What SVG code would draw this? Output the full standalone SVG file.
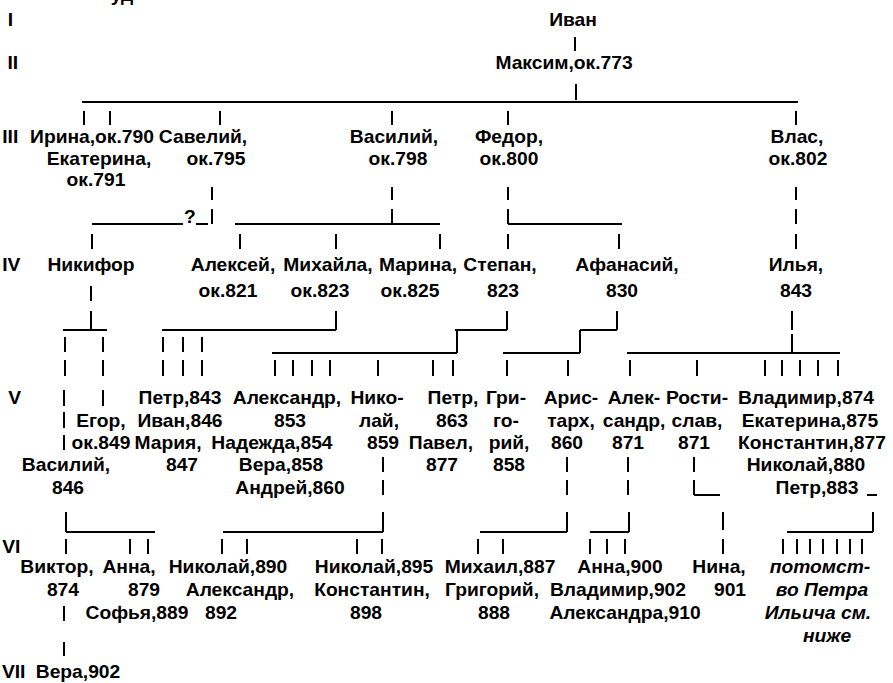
<svg xmlns="http://www.w3.org/2000/svg" width="893" height="683" viewBox="0 0 893 683">
<style>
text{font-family:"Liberation Sans",Arial,sans-serif;font-weight:bold;font-size:17.5px;fill:#000;text-anchor:middle;transform-box:fill-box;transform-origin:center;transform:scaleX(1.1)}
.g text{text-anchor:start}
.it{font-style:italic}
.c line{stroke:#000;stroke-width:2}
</style>
<rect width="893" height="683" fill="#fff"/>
<text x="122" y="1">уд</text>
<g id="generations" class="g">
<text x="8" y="26">I</text><text x="8" y="69">II</text><text x="3" y="143">III</text><text x="3" y="271">IV</text><text x="9" y="404">V</text><text x="3" y="553">VI</text><text x="3" y="678">VII</text>
</g>
<g id="connectors" class="c">
<line x1="575" y1="37" x2="575" y2="51"/><line x1="576" y1="84" x2="576" y2="100"/>
<line x1="82" y1="102" x2="798" y2="102"/>
<line x1="84" y1="111" x2="84" y2="125"/><line x1="110" y1="111" x2="110" y2="125"/><line x1="220" y1="111" x2="220" y2="125"/><line x1="392" y1="111" x2="392" y2="125"/><line x1="508" y1="111" x2="508" y2="125"/><line x1="796" y1="111" x2="796" y2="125"/>
<line x1="212" y1="187" x2="212" y2="200"/><line x1="392" y1="187" x2="392" y2="200"/><line x1="508" y1="187" x2="508" y2="200"/><line x1="796" y1="187" x2="796" y2="200"/>
<line x1="92" y1="224" x2="183" y2="224"/><text x="190" y="223">?</text><line x1="196" y1="224" x2="208" y2="224"/><line x1="212" y1="209" x2="212" y2="224"/>
<line x1="235" y1="224" x2="440" y2="224"/><line x1="392" y1="209" x2="392" y2="224"/>
<line x1="508" y1="209" x2="508" y2="224"/><line x1="508" y1="224" x2="622" y2="224"/><line x1="796" y1="209" x2="796" y2="224"/>
<line x1="92" y1="234" x2="92" y2="249"/><line x1="240" y1="234" x2="240" y2="249"/><line x1="336" y1="234" x2="336" y2="249"/><line x1="440" y1="234" x2="440" y2="249"/><line x1="508" y1="234" x2="508" y2="249"/><line x1="619" y1="234" x2="619" y2="249"/><line x1="796" y1="234" x2="796" y2="249"/>
<line x1="91" y1="286" x2="91" y2="301"/>
<line x1="91" y1="311" x2="91" y2="330"/><line x1="63" y1="330" x2="107" y2="330"/>
<line x1="336" y1="311" x2="336" y2="330"/><line x1="162" y1="330" x2="336" y2="330"/>
<line x1="507" y1="311" x2="507" y2="330"/><line x1="455" y1="330" x2="507" y2="330"/>
<line x1="617" y1="311" x2="617" y2="330"/><line x1="580" y1="330" x2="617" y2="330"/>
<line x1="792" y1="311" x2="792" y2="330"/>
<line x1="65" y1="337" x2="65" y2="352"/><line x1="103" y1="337" x2="103" y2="352"/><line x1="163" y1="337" x2="163" y2="352"/><line x1="183" y1="337" x2="183" y2="352"/><line x1="202" y1="337" x2="202" y2="352"/>
<line x1="457" y1="330" x2="457" y2="353"/><line x1="272" y1="353" x2="457" y2="353"/>
<line x1="580" y1="330" x2="580" y2="353"/><line x1="503" y1="353" x2="580" y2="353"/>
<line x1="792" y1="334" x2="792" y2="353"/><line x1="627" y1="353" x2="840" y2="353"/>
<line x1="65" y1="360" x2="65" y2="376"/><line x1="103" y1="360" x2="103" y2="376"/><line x1="163" y1="360" x2="163" y2="376"/><line x1="183" y1="360" x2="183" y2="376"/><line x1="202" y1="360" x2="202" y2="376"/>
<line x1="275" y1="360" x2="275" y2="376"/><line x1="293" y1="360" x2="293" y2="376"/><line x1="312" y1="360" x2="312" y2="376"/><line x1="330" y1="360" x2="330" y2="376"/><line x1="378" y1="360" x2="378" y2="376"/><line x1="433" y1="360" x2="433" y2="376"/><line x1="453" y1="360" x2="453" y2="376"/>
<line x1="507" y1="360" x2="507" y2="376"/><line x1="568" y1="360" x2="568" y2="376"/><line x1="630" y1="360" x2="630" y2="376"/><line x1="697" y1="360" x2="697" y2="376"/>
<line x1="765" y1="360" x2="765" y2="376"/><line x1="782" y1="360" x2="782" y2="376"/><line x1="800" y1="360" x2="800" y2="376"/><line x1="818" y1="360" x2="818" y2="376"/><line x1="838" y1="360" x2="838" y2="376"/>
<line x1="64" y1="390" x2="64" y2="406"/><line x1="103" y1="390" x2="103" y2="406"/>
<line x1="64" y1="412" x2="64" y2="428"/><line x1="64" y1="435" x2="64" y2="450"/>
<line x1="383" y1="457" x2="383" y2="472"/><line x1="567" y1="457" x2="567" y2="472"/><line x1="628" y1="457" x2="628" y2="472"/><line x1="694" y1="457" x2="694" y2="472"/>
<line x1="383" y1="480" x2="383" y2="495"/><line x1="567" y1="480" x2="567" y2="495"/><line x1="628" y1="480" x2="628" y2="495"/>
<line x1="694" y1="480" x2="694" y2="495"/><line x1="694" y1="495" x2="720" y2="495"/>
<line x1="867" y1="495" x2="877" y2="495"/>
<line x1="66" y1="512" x2="66" y2="532"/><line x1="66" y1="532" x2="155" y2="532"/>
<line x1="223" y1="532" x2="383" y2="532"/><line x1="383" y1="512" x2="383" y2="532"/>
<line x1="480" y1="532" x2="567" y2="532"/><line x1="567" y1="512" x2="567" y2="532"/>
<line x1="590" y1="532" x2="629" y2="532"/><line x1="629" y1="512" x2="629" y2="532"/>
<line x1="723" y1="512" x2="723" y2="530"/>
<line x1="787" y1="532" x2="873" y2="532"/><line x1="873" y1="512" x2="873" y2="532"/>
<line x1="66" y1="539" x2="66" y2="554"/><line x1="130" y1="539" x2="130" y2="554"/><line x1="148" y1="539" x2="148" y2="554"/><line x1="222" y1="539" x2="222" y2="554"/><line x1="247" y1="539" x2="247" y2="554"/>
<line x1="357" y1="539" x2="357" y2="554"/><line x1="382" y1="539" x2="382" y2="554"/><line x1="478" y1="539" x2="478" y2="554"/><line x1="503" y1="539" x2="503" y2="554"/>
<line x1="590" y1="539" x2="590" y2="554"/><line x1="607" y1="539" x2="607" y2="554"/><line x1="625" y1="539" x2="625" y2="554"/><line x1="723" y1="539" x2="723" y2="554"/>
<line x1="783" y1="539" x2="783" y2="554"/><line x1="797" y1="539" x2="797" y2="554"/><line x1="810" y1="539" x2="810" y2="554"/><line x1="823" y1="539" x2="823" y2="554"/><line x1="837" y1="539" x2="837" y2="554"/><line x1="850" y1="539" x2="850" y2="554"/><line x1="862" y1="539" x2="862" y2="554"/>
<line x1="64" y1="606" x2="64" y2="621"/><line x1="64" y1="642" x2="64" y2="656"/>
</g>
<g id="ivan"><text x="573" y="26">Иван</text></g>
<g id="maksim"><text x="564" y="69">Максим,ок.773</text></g>
<g id="irina"><text x="92" y="143">Ирина,ок.790</text></g>
<g id="ekaterina791"><text x="99" y="165">Екатерина,</text><text x="96" y="186">ок.791</text></g>
<g id="saveliy"><text x="203" y="143">Савелий,</text><text x="216" y="165">ок.795</text></g>
<g id="vasiliy798"><text x="394" y="143">Василий,</text><text x="398" y="165">ок.798</text></g>
<g id="fedor"><text x="509" y="143">Федор,</text><text x="509" y="165">ок.800</text></g>
<g id="vlas"><text x="797" y="143">Влас,</text><text x="798" y="165">ок.802</text></g>
<g id="nikifor"><text x="91" y="271">Никифор</text></g>
<g id="aleksey"><text x="233" y="271">Алексей,</text><text x="228" y="297">ок.821</text></g>
<g id="mikhayla"><text x="328" y="271">Михайла,</text><text x="320" y="297">ок.823</text></g>
<g id="marina"><text x="418" y="271">Марина,</text><text x="410" y="297">ок.825</text></g>
<g id="stepan"><text x="500" y="271">Степан,</text><text x="503" y="297">823</text></g>
<g id="afanasiy"><text x="627" y="271">Афанасий,</text><text x="622" y="297">830</text></g>
<g id="ilya"><text x="796" y="271">Илья,</text><text x="796" y="297">843</text></g>
<g id="vasiliy846"><text x="66" y="471">Василий,</text><text x="68" y="494">846</text></g>
<g id="egor"><text x="101" y="427">Егор,</text><text x="101" y="449">ок.849</text></g>
<g id="petr843"><text x="180" y="404">Петр,843</text></g>
<g id="ivan846"><text x="180" y="427">Иван,846</text></g>
<g id="mariya"><text x="168" y="449">Мария,</text><text x="182" y="471">847</text></g>
<g id="aleksandr853"><text x="287" y="404">Александр,</text><text x="290" y="427">853</text></g>
<g id="nadezhda"><text x="272" y="449">Надежда,854</text></g>
<g id="vera858"><text x="281" y="471">Вера,858</text></g>
<g id="andrey"><text x="290" y="494">Андрей,860</text></g>
<g id="nikolay859"><text x="377" y="404">Нико-</text><text x="379" y="427">лай,</text><text x="383" y="449">859</text></g>
<g id="petr863"><text x="453" y="404">Петр,</text><text x="452" y="427">863</text></g>
<g id="pavel"><text x="441" y="449">Павел,</text><text x="442" y="471">877</text></g>
<g id="grigoriy858"><text x="506" y="404">Гри-</text><text x="506" y="427">го-</text><text x="509" y="449">рий,</text><text x="509" y="471">858</text></g>
<g id="aristarkh"><text x="571" y="404">Арис-</text><text x="571" y="427">тарх,</text><text x="567" y="449">860</text></g>
<g id="aleksandr871"><text x="634" y="404">Алек-</text><text x="634" y="427">сандр,</text><text x="628" y="449">871</text></g>
<g id="rostislav"><text x="697" y="404">Рости-</text><text x="697" y="427">слав,</text><text x="694" y="449">871</text></g>
<g id="vladimir874"><text x="806" y="404">Владимир,874</text></g>
<g id="ekaterina875"><text x="810" y="427">Екатерина,875</text></g>
<g id="konstantin877"><text x="812" y="449">Константин,877</text></g>
<g id="nikolay880"><text x="806" y="471">Николай,880</text></g>
<g id="petr883"><text x="817" y="494">Петр,883</text></g>
<g id="viktor"><text x="57" y="573">Виктор,</text><text x="63" y="596">874</text></g>
<g id="anna879"><text x="129" y="573">Анна,</text><text x="144" y="596">879</text></g>
<g id="sofya"><text x="137" y="619">Софья,889</text></g>
<g id="nikolay890"><text x="228" y="573">Николай,890</text></g>
<g id="aleksandr892"><text x="240" y="596">Александр,</text><text x="221" y="619">892</text></g>
<g id="nikolay895"><text x="374" y="573">Николай,895</text></g>
<g id="konstantin898"><text x="372" y="596">Константин,</text><text x="366" y="619">898</text></g>
<g id="mikhail"><text x="500" y="573">Михаил,887</text></g>
<g id="grigoriy888"><text x="492" y="596">Григорий,</text><text x="494" y="619">888</text></g>
<g id="anna900"><text x="620" y="573">Анна,900</text></g>
<g id="vladimir902"><text x="618" y="596">Владимир,902</text></g>
<g id="aleksandra"><text x="625" y="619">Александра,910</text></g>
<g id="nina"><text x="719" y="573">Нина,</text><text x="730" y="596">901</text></g>
<g id="potomstvo"><text class="it" x="820" y="573">потомст-</text><text class="it" x="822" y="596">во Петра</text><text class="it" x="818" y="619">Ильича см.</text><text class="it" x="827" y="642">ниже</text></g>
<g id="vera902"><text x="78" y="678">Вера,902</text></g>
</svg>
